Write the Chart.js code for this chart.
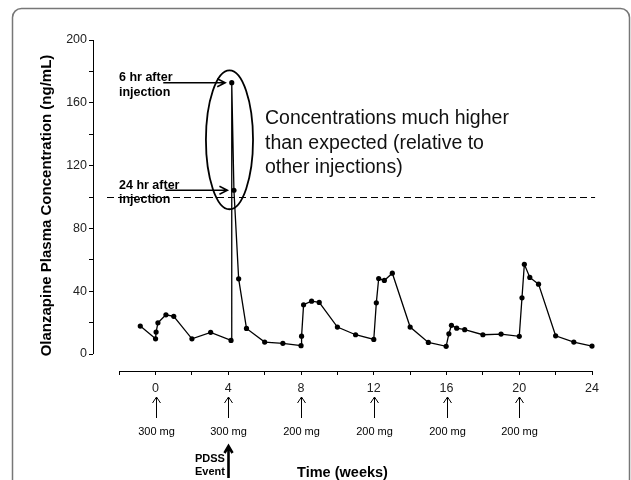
<!DOCTYPE html>
<html>
<head>
<meta charset="utf-8">
<script src="https://cdn.jsdelivr.net/npm/chart.js@4"></script>
<style>
    body { margin: 0; background: #fff; }
    canvas { display: block; }
</style>
</head>
<body>
<canvas id="concentracion" width="631" height="480"></canvas>
<script>
// Datos
const semanas = [-0.84, 0.0, 0.03, 0.13, 0.57, 1.0, 2.0, 3.03, 4.15, 4.19, 4.31, 4.57, 5.0, 6.0, 7.0,
    8.0, 8.03, 8.14, 8.58, 9.0, 10.0, 11.0, 12.0, 12.14, 12.27, 12.58, 13.02, 14.0, 15.0,
    15.98, 16.13, 16.27, 16.56, 17.0, 18.0, 19.0, 20.0, 20.15, 20.28, 20.58, 21.06, 22.0, 23.0, 24.0];
const concentracion = [17.8, 9.7, 14.0, 19.9, 25.0, 24.0, 9.7, 13.8, 8.7, 172.8, 104.3, 47.9, 16.3, 7.6, 6.8,
    5.3, 11.4, 31.4, 33.7, 32.9, 17.2, 12.3, 9.3, 32.6, 48.1, 46.9, 51.5, 17.2, 7.4,
    4.9, 12.9, 18.3, 16.5, 15.5, 12.3, 12.7, 11.3, 35.8, 57.2, 48.8, 44.5, 11.6, 7.6, 5.1];
const marcasX = [-2, 0, 2, 4, 6, 8, 10, 12, 14, 16, 18, 20, 22, 24];
const marcasY = [0, 20, 40, 60, 80, 100, 120, 140, 160, 180, 200];
const semanasDosis = [0, 4, 8, 12, 16, 20];
const etiquetasDosis = ['300 mg', '300 mg', '200 mg', '200 mg', '200 mg', '200 mg'];
const umbral = 100;
const semanaEvento = 4;
const notaPicos = [['6 hr after', 'injection'], ['24 hr after', 'injection']];
const indicesPicos = [9, 10];
const notaConcentraciones = ['Concentrations much higher', 'than expected (relative to', 'other injections)'];

const fuente = '"Liberation Sans", Arial, Helvetica, sans-serif';

// Dibuja una flecha con punta abierta
function flecha(ctx, x1, y1, x2, y2, largo, ancho, grosor) {
    const ang = Math.atan2(y2 - y1, x2 - x1);
    ctx.lineWidth = grosor;
    ctx.beginPath();
    ctx.moveTo(x1, y1);
    ctx.lineTo(x2, y2);
    ctx.moveTo(x2 - largo * Math.cos(ang) + ancho * Math.sin(ang), y2 - largo * Math.sin(ang) - ancho * Math.cos(ang));
    ctx.lineTo(x2, y2);
    ctx.lineTo(x2 - largo * Math.cos(ang) - ancho * Math.sin(ang), y2 - largo * Math.sin(ang) + ancho * Math.cos(ang));
    ctx.stroke();
}

// Plugin con marco, ejes, línea de referencia y anotaciones
const anotaciones = {
    id: 'anotaciones',
    beforeDraw(chart) {
        const ctx = chart.ctx;
        ctx.save();
        ctx.fillStyle = '#fff';
        ctx.fillRect(0, 0, chart.width, chart.height);
        // marco redondeado
        const x0 = 12.5, y0 = 8.5, x1 = 629.5, y1 = 500, r = 9;
        ctx.strokeStyle = '#777';
        ctx.lineWidth = 1.5;
        ctx.beginPath();
        ctx.moveTo(x0, y1);
        ctx.lineTo(x0, y0 + r);
        ctx.arcTo(x0, y0, x0 + r, y0, r);
        ctx.lineTo(x1 - r, y0);
        ctx.arcTo(x1, y0, x1, y0 + r, r);
        ctx.lineTo(x1, y1);
        ctx.stroke();
        ctx.restore();
    },
    beforeDatasetsDraw(chart) {
        const ctx = chart.ctx;
        const x = chart.scales.x, y = chart.scales.y;
        ctx.save();
        ctx.strokeStyle = '#000';
        ctx.lineWidth = 1;
        // ejes separados
        ctx.beginPath();
        ctx.moveTo(chart.chartArea.left + 0.5, y.getPixelForValue(200));
        ctx.lineTo(chart.chartArea.left + 0.5, y.getPixelForValue(0));
        ctx.moveTo(x.getPixelForValue(-2), chart.chartArea.bottom + 0.5);
        ctx.lineTo(x.getPixelForValue(24), chart.chartArea.bottom + 0.5);
        ctx.stroke();
        // línea punteada del umbral
        ctx.setLineDash([7, 4]);
        ctx.beginPath();
        ctx.moveTo(x.getPixelForValue(-2.67), Math.round(y.getPixelForValue(umbral)) + 0.5);
        ctx.lineTo(x.getPixelForValue(24.17), Math.round(y.getPixelForValue(umbral)) + 0.5);
        ctx.stroke();
        ctx.restore();
    },
    afterDatasetsDraw(chart) {
        const ctx = chart.ctx;
        const x = chart.scales.x, y = chart.scales.y;
        ctx.save();
        ctx.strokeStyle = '#000';
        ctx.fillStyle = '#000';

        // elipse alrededor de los picos
        const ex1 = x.getPixelForValue(2.77), ex2 = x.getPixelForValue(5.36);
        const ey1 = y.getPixelForValue(180.6), ey2 = y.getPixelForValue(92.2);
        ctx.lineWidth = 1.8;
        ctx.beginPath();
        ctx.ellipse((ex1 + ex2) / 2, (ey1 + ey2) / 2, (ex2 - ex1) / 2, (ey2 - ey1) / 2, 0, 0, Math.PI * 2);
        ctx.stroke();

        // flechas y textos de los picos
        ctx.font = 'bold 12.5px ' + fuente;
        ctx.textAlign = 'left';
        ctx.textBaseline = 'middle';
        indicesPicos.forEach(function (i, k) {
            const px = x.getPixelForValue(semanas[i]) - 6.5;
            const py = y.getPixelForValue(concentracion[i]);
            flecha(ctx, px - 62, py, px, py, 8, 4, 1.5);
            ctx.fillText(notaPicos[k][0], 119, py - 5);
            ctx.fillText(notaPicos[k][1], 119, py + 9.5);
        });

        // texto explicativo
        ctx.font = '19.5px ' + fuente;
        ctx.fillStyle = '#111';
        notaConcentraciones.forEach(function (linea, k) {
            ctx.fillText(linea, 265, 119 + k * 24.5);
        });

        // flechas de dosis
        ctx.fillStyle = '#000';
        ctx.font = '11px ' + fuente;
        ctx.textAlign = 'center';
        semanasDosis.forEach(function (s, k) {
            const px = Math.round(x.getPixelForValue(s)) + 0.5;
            flecha(ctx, px, 418, px, 397, 6, 4, 1);
            ctx.fillText(etiquetasDosis[k], px, 432);
        });

        // evento PDSS
        const pe = Math.round(x.getPixelForValue(semanaEvento)) + 0.5;
        flecha(ctx, pe, 478, pe, 446, 7, 4, 2.6);
        ctx.font = 'bold 11px ' + fuente;
        ctx.textAlign = 'left';
        ctx.fillText('PDSS', 195, 459);
        ctx.fillText('Event', 195, 472);
        ctx.restore();
    }
};

document.addEventListener('DOMContentLoaded', function () {
    Chart.defaults.font.family = fuente;
    Chart.defaults.color = '#222';

    // Creación de gráfico tipo líneas
    let ctx1 = document.getElementById('concentracion').getContext('2d');
    let grafico = new Chart(ctx1, {
        type: 'line',
        data: {
            datasets: [{
                data: semanas.map(function (s, i) { return { x: s, y: concentracion[i] }; }),
                borderColor: '#000',
                backgroundColor: '#000',
                borderWidth: 1.3,
                pointRadius: 2.6,
                pointBorderWidth: 0,
                pointBackgroundColor: '#000',
                tension: 0,
                clip: false
            }]
        },
        options: {
            responsive: false,
            animation: false,
            layout: { padding: { left: 0, right: 39, top: 40, bottom: 0 } },
            plugins: {
                legend: { display: false },
                tooltip: { enabled: false }
            },
            scales: {
                x: {
                    type: 'linear',
                    min: -3.44,
                    max: 24,
                    afterBuildTicks: function (eje) {
                        eje.ticks = marcasX.map(function (v) { return { value: v }; });
                    },
                    afterFit: function (eje) { eje.height = 109; },
                    border: { display: false },
                    grid: { drawOnChartArea: false, drawTicks: true, tickLength: 4, color: '#000' },
                    ticks: {
                        autoSkip: false,
                        maxRotation: 0,
                        padding: 6,
                        font: { size: 12.5 },
                        callback: function (v) { return (v >= 0 && v % 4 === 0) ? v : ''; }
                    },
                    title: {
                        display: true,
                        text: 'Time (weeks)',
                        color: '#000',
                        padding: 0,
                        font: { size: 14.5, weight: 'bold', lineHeight: 1 }
                    }
                },
                y: {
                    min: -10.8,
                    max: 200,
                    afterBuildTicks: function (eje) {
                        eje.ticks = marcasY.map(function (v) { return { value: v }; });
                    },
                    afterFit: function (eje) { eje.width = 93; },
                    border: { display: false },
                    grid: { drawOnChartArea: false, drawTicks: true, tickLength: 4, color: '#000' },
                    ticks: {
                        autoSkip: false,
                        padding: 2,
                        font: { size: 12.5 },
                        callback: function (v) { return v % 40 === 0 ? v : ''; }
                    },
                    title: {
                        display: true,
                        text: 'Olanzapine Plasma Concentration (ng/mL)',
                        color: '#000',
                        padding: { top: 38, bottom: 0 },
                        font: { size: 15, weight: 'bold' }
                    }
                }
            }
        },
        plugins: [anotaciones]
    });
});
</script>
</body>
</html>
